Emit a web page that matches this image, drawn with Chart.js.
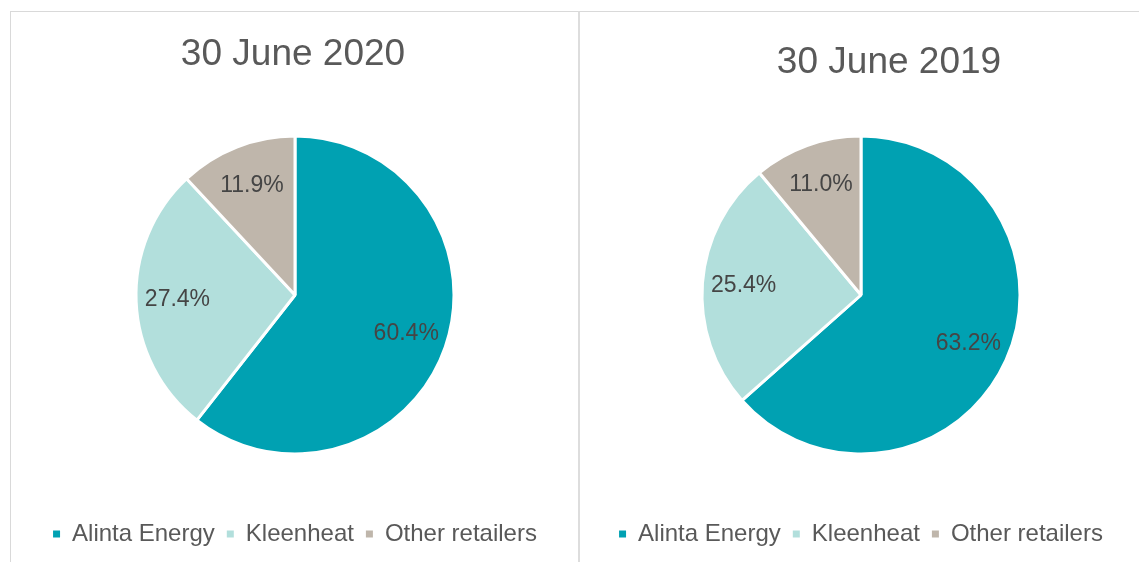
<!DOCTYPE html>
<html>
<head>
<meta charset="utf-8">
<script src="https://cdn.jsdelivr.net/npm/chart.js@4.4.1/dist/chart.umd.min.js"></script>
<style>
    body { margin: 0; width: 1139px; height: 562px; overflow: hidden; background: #fff; font-family: "Liberation Sans", Arial, sans-serif; }
    .panel { position: absolute; top: 11px; height: 600px; border-top: 1px solid #d9d9d9; border-left: 1px solid #d9d9d9; }
    #left-panel { left: 10px; width: 567px; border-right: 1px solid #d9d9d9; }
    #right-panel { left: 578px; width: 600px; border-left: 2px solid #dddddd; }
    canvas { position: absolute; top: 0; left: 0; }
</style>
</head>
<body>
<div class="panel" id="left-panel"><canvas id="share-2020" width="566" height="550"></canvas></div>
<div class="panel" id="right-panel"><canvas id="share-2019" width="560" height="550"></canvas></div>
<script>
const retailers = ['Alinta Energy', 'Kleenheat', 'Other retailers'];
const share2020 = [60.4, 27.4, 11.9];
const share2019 = [63.2, 25.4, 11.0];
const sliceColours = ['#00a1b2', '#b2dfdc', '#bfb6ab'];

const sliceLabels = {
    id: 'sliceLabels',
    afterDatasetsDraw(chart) {
        const ctx = chart.ctx;
        const values = chart.data.datasets[0].data;
        ctx.save();
        ctx.font = '23px "Liberation Sans", Arial, sans-serif';
        ctx.fillStyle = '#454545';
        ctx.textAlign = 'center';
        ctx.textBaseline = 'middle';
        chart.getDatasetMeta(0).data.forEach((arc, i) => {
            const p = arc.getProps(['x', 'y', 'startAngle', 'endAngle', 'outerRadius'], true);
            const mid = (p.startAngle + p.endAngle) / 2;
            const r = p.outerRadius * 0.74;
            ctx.fillText(values[i].toFixed(1) + '%', p.x + Math.cos(mid) * r, p.y + Math.sin(mid) * r);
        });
        ctx.restore();
    }
};

const panelTitle = {
    id: 'panelTitle',
    afterDraw(chart, args, opts) {
        const ctx = chart.ctx;
        ctx.save();
        ctx.font = '37px "Liberation Sans", Arial, sans-serif';
        ctx.fillStyle = '#595959';
        ctx.textAlign = 'center';
        ctx.textBaseline = 'middle';
        ctx.fillText(opts.text, opts.x, opts.y);
        ctx.restore();
    }
};

function legendItems(chart) {
    return Chart.overrides.pie.plugins.legend.labels.generateLabels(chart)
        .map(item => ({ ...item, lineWidth: 0 }));
}

function renderShareChart(id, title, values, titleX, titleY, padding) {
    new Chart(document.getElementById(id), {
        type: 'pie',
        data: {
            labels: retailers,
            datasets: [{
                data: values,
                backgroundColor: sliceColours,
                borderColor: '#ffffff',
                borderWidth: 3,
                radius: 159
            }]
        },
        options: {
            responsive: false,
            animation: false,
            layout: { padding: padding },
            plugins: {
                tooltip: { enabled: false },
                legend: {
                    position: 'bottom',
                    labels: {
                        font: { size: 24, family: '"Liberation Sans", Arial, sans-serif' },
                        color: '#595959',
                        boxWidth: 7,
                        boxHeight: 7,
                        padding: 12,
                        generateLabels: legendItems
                    }
                },
                panelTitle: { text: title, x: titleX, y: titleY }
            }
        },
        plugins: [sliceLabels, panelTitle]
    });
}

renderShareChart('share-2020', '30 June 2020', share2020, 282, 43, { top: 68, bottom: 6, left: 2, right: 0 });
renderShareChart('share-2019', '30 June 2019', share2019, 309, 51, { top: 68, bottom: 6, left: 2, right: 0 });
</script>
</body>
</html>
